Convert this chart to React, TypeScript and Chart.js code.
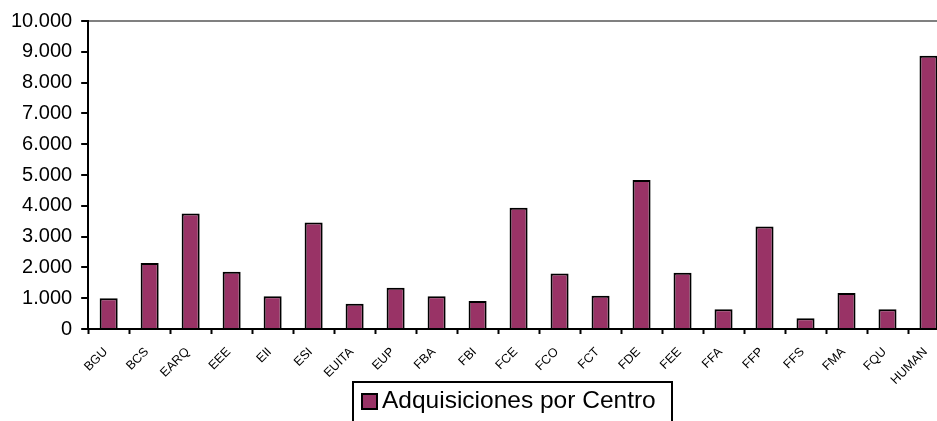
import React, { useEffect, useRef } from "react";
import { Chart, registerables } from "chart.js";

Chart.register(...registerables);

const categories = ["BGU", "BCS", "EARQ", "EEE", "EII", "ESI", "EUITA", "EUP", "FBA", "FBI", "FCE", "FCO", "FCT", "FDE", "FEE", "FFA", "FFP", "FFS", "FMA", "FQU", "HUMAN"];
const adquisiciones = [1000, 2140, 3750, 1860, 1060, 3460, 820, 1340, 1060, 910, 3940, 1800, 1080, 4840, 1830, 640, 3330, 350, 1170, 640, 8870];
const seriesLabel = "Adquisiciones por Centro";
const yMin = 0;
const yMax = 10000;
const yStep = 1000;

const FONT = "Arial, 'Liberation Sans', sans-serif";
const BAR = "#993366";

function fmt(v: number): string {
  return String(Math.round(v)).replace(/\B(?=(\d{3})+(?!\d))/g, ".");
}

const rotatedLabels = {
  id: "rotatedLabels",
  afterDraw(chart: any) {
    const xs = chart.scales.x;
    const ctx = chart.ctx;
    ctx.save();
    ctx.fillStyle = "#000000";
    ctx.font = `12.5px ${FONT}`;
    ctx.textAlign = "right";
    ctx.textBaseline = "middle";
    const labels = chart.data.labels as string[];
    labels.forEach((lab, i) => {
      const x = xs.getPixelForValue(i) - 3;
      const y = xs.top + 21;
      ctx.save();
      ctx.translate(x, y);
      ctx.rotate(-Math.PI / 4);
      ctx.fillText(lab, 0, 0);
      ctx.restore();
    });
    ctx.restore();
  },
};

export default function App() {
  const ref = useRef<HTMLCanvasElement | null>(null);

  useEffect(() => {
    if (!ref.current) return;
    const chart = new Chart(ref.current, {
      type: "bar",
      data: {
        labels: categories,
        datasets: [
          {
            label: seriesLabel,
            data: adquisiciones,
            backgroundColor: BAR,
            borderColor: "#000000",
            borderWidth: 2,
            categoryPercentage: 1,
            barPercentage: 0.44,
          },
        ],
      },
      options: {
        animation: false,
        responsive: true,
        maintainAspectRatio: false,
        layout: { padding: { top: 16, right: 1, left: 2, bottom: 87 } },
        plugins: {
          legend: { display: false },
          tooltip: { enabled: false },
        },
        scales: {
          x: {
            offset: true,
            grid: {
              offset: true,
              color: "rgba(0,0,0,0)",
              drawTicks: true,
              tickLength: 5,
              tickColor: "#000000",
              tickWidth: 2,
            },
            border: { color: "#000000", width: 2 },
            ticks: { display: false },
          },
          y: {
            min: yMin,
            max: yMax,
            grid: {
              color: (ctx: any) => (ctx.tick && ctx.tick.value === yMax ? "#808080" : "rgba(0,0,0,0)"),
              lineWidth: 2,
              drawTicks: true,
              tickLength: 7,
              tickColor: "#000000",
              tickWidth: 2,
            },
            border: { color: "#000000", width: 2 },
            ticks: {
              stepSize: yStep,
              color: "#000000",
              font: { family: FONT, size: 20 },
              padding: 9,
              callback: (v: any) => fmt(Number(v)),
            },
          },
        },
      },
      plugins: [rotatedLabels],
    });
    return () => chart.destroy();
  }, []);

  return (
    <div style={{ position: "absolute", left: 0, top: 0, width: 937, height: 421, overflow: "hidden", background: "#fff" }}>
      <div style={{ position: "absolute", left: 0, top: 0, width: 950, height: 421 }}>
        <canvas ref={ref} />
      </div>
      <div
        style={{
          position: "absolute",
          left: 352,
          top: 381,
          width: 317,
          height: 50,
          border: "2px solid #000",
          boxSizing: "content-box",
          fontFamily: FONT,
          fontSize: 24.5,
          color: "#000",
          display: "flex",
          alignItems: "flex-start",
          whiteSpace: "nowrap",
        }}
      >
        <span
          style={{
            display: "inline-block",
            flex: "0 0 auto",
            width: 13,
            height: 13,
            background: BAR,
            border: "2px solid #000",
            marginLeft: 7,
            marginTop: 10,
            marginRight: 4,
          }}
        />
        <span style={{ lineHeight: "34px" }}>{seriesLabel}</span>
      </div>
    </div>
  );
}
